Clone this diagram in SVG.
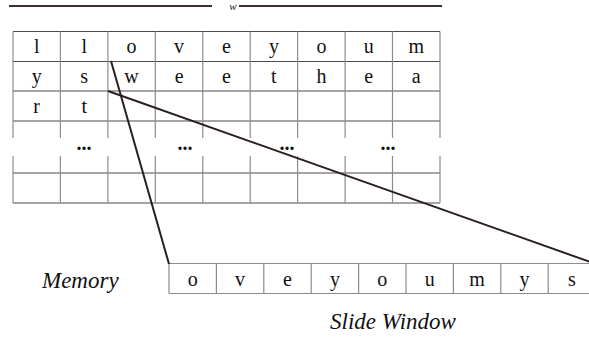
<svg xmlns="http://www.w3.org/2000/svg" width="589" height="340" viewBox="0 0 589 340">
<style>
  .t { font-family: "Liberation Serif", "Times New Roman", serif; font-size: 20px; fill: #111; text-anchor: middle; }
  .it { font-family: "Liberation Serif", "Times New Roman", serif; font-style: italic; fill: #111; }
  .h { stroke: #4a4a4a; stroke-width: 1.2; fill: none; }
  .v { stroke: #8c8c8c; stroke-width: 1.2; fill: none; }
  .conn { stroke: #2a1e1e; stroke-width: 2; fill: none; }
  .dots { font-family: "Liberation Serif", serif; font-size: 20px; font-weight: bold; fill: #111; text-anchor: middle; }
</style>
<rect width="589" height="340" fill="#fff"/>

<g id="width-label">
  <line x1="9" y1="6" x2="212" y2="6" stroke="#3a3030" stroke-width="2"/>
  <line x1="239" y1="6" x2="442" y2="6" stroke="#3a3030" stroke-width="2"/>
  <text class="it" x="233" y="10" font-size="11" text-anchor="middle">w</text>
</g>

<g id="memory-grid">
  <path class="h" d="M13 31.5H440 M13 61.5H440 M13 91H440 M13 121H440 M13 173H440 M13 203H440"/>
  <path class="v" d="M13 31.5V138 M60.4 31.5V138 M107.9 31.5V138 M155.3 31.5V138 M202.8 31.5V138 M250.2 31.5V138 M297.6 31.5V138 M345.1 31.5V138 M392.5 31.5V138 M440 31.5V138
                     M13 156V203 M60.4 156V203 M107.9 156V203 M155.3 156V203 M202.8 156V203 M250.2 156V203 M297.6 156V203 M345.1 156V203 M392.5 156V203 M440 156V203"/>
  <g>
    <text class="t" x="36.7" y="53">l</text>
    <text class="t" x="84.2" y="53">l</text>
    <text class="t" x="131.6" y="53">o</text>
    <text class="t" x="179.1" y="53">v</text>
    <text class="t" x="226.5" y="53">e</text>
    <text class="t" x="273.9" y="53">y</text>
    <text class="t" x="321.4" y="53">o</text>
    <text class="t" x="368.8" y="53">u</text>
    <text class="t" x="416.3" y="53">m</text>
  </g>
  <g>
    <text class="t" x="36.7" y="83">y</text>
    <text class="t" x="84.2" y="83">s</text>
    <text class="t" x="131.6" y="83">w</text>
    <text class="t" x="179.1" y="83">e</text>
    <text class="t" x="226.5" y="83">e</text>
    <text class="t" x="273.9" y="83">t</text>
    <text class="t" x="321.4" y="83">h</text>
    <text class="t" x="368.8" y="83">e</text>
    <text class="t" x="416.3" y="83">a</text>
  </g>
  <g>
    <text class="t" x="36.7" y="113">r</text>
    <text class="t" x="84.2" y="113">t</text>
  </g>
  <g>
    <text class="dots" x="84" y="150">...</text>
    <text class="dots" x="185" y="150">...</text>
    <text class="dots" x="287" y="150">...</text>
    <text class="dots" x="388" y="150">...</text>
  </g>
</g>

<g id="memory-label">
  <text class="it" x="42" y="288" font-size="23">Memory</text>
</g>

<g id="slide-window">
  <path class="v" d="M169 263.5H596 M169 293.5H596 M169 263.5V293.5 M216.4 263.5V293.5 M263.8 263.5V293.5 M311.2 263.5V293.5 M358.6 263.5V293.5 M406 263.5V293.5 M453.4 263.5V293.5 M500.8 263.5V293.5 M548.2 263.5V293.5"/>
  <text class="t" x="192.7" y="286">o</text>
  <text class="t" x="240.1" y="286">v</text>
  <text class="t" x="287.5" y="286">e</text>
  <text class="t" x="334.9" y="286">y</text>
  <text class="t" x="382.3" y="286">o</text>
  <text class="t" x="429.7" y="286">u</text>
  <text class="t" x="477.1" y="286">m</text>
  <text class="t" x="524.5" y="286">y</text>
  <text class="t" x="571.9" y="286">s</text>
</g>

<g id="slide-window-label">
  <text class="it" x="330" y="329" font-size="23">Slide Window</text>
</g>

<g id="connectors">
  <line class="conn" x1="111" y1="61" x2="169" y2="264"/>
  <line class="conn" x1="108" y1="91" x2="596" y2="264"/>
</g>
</svg>
